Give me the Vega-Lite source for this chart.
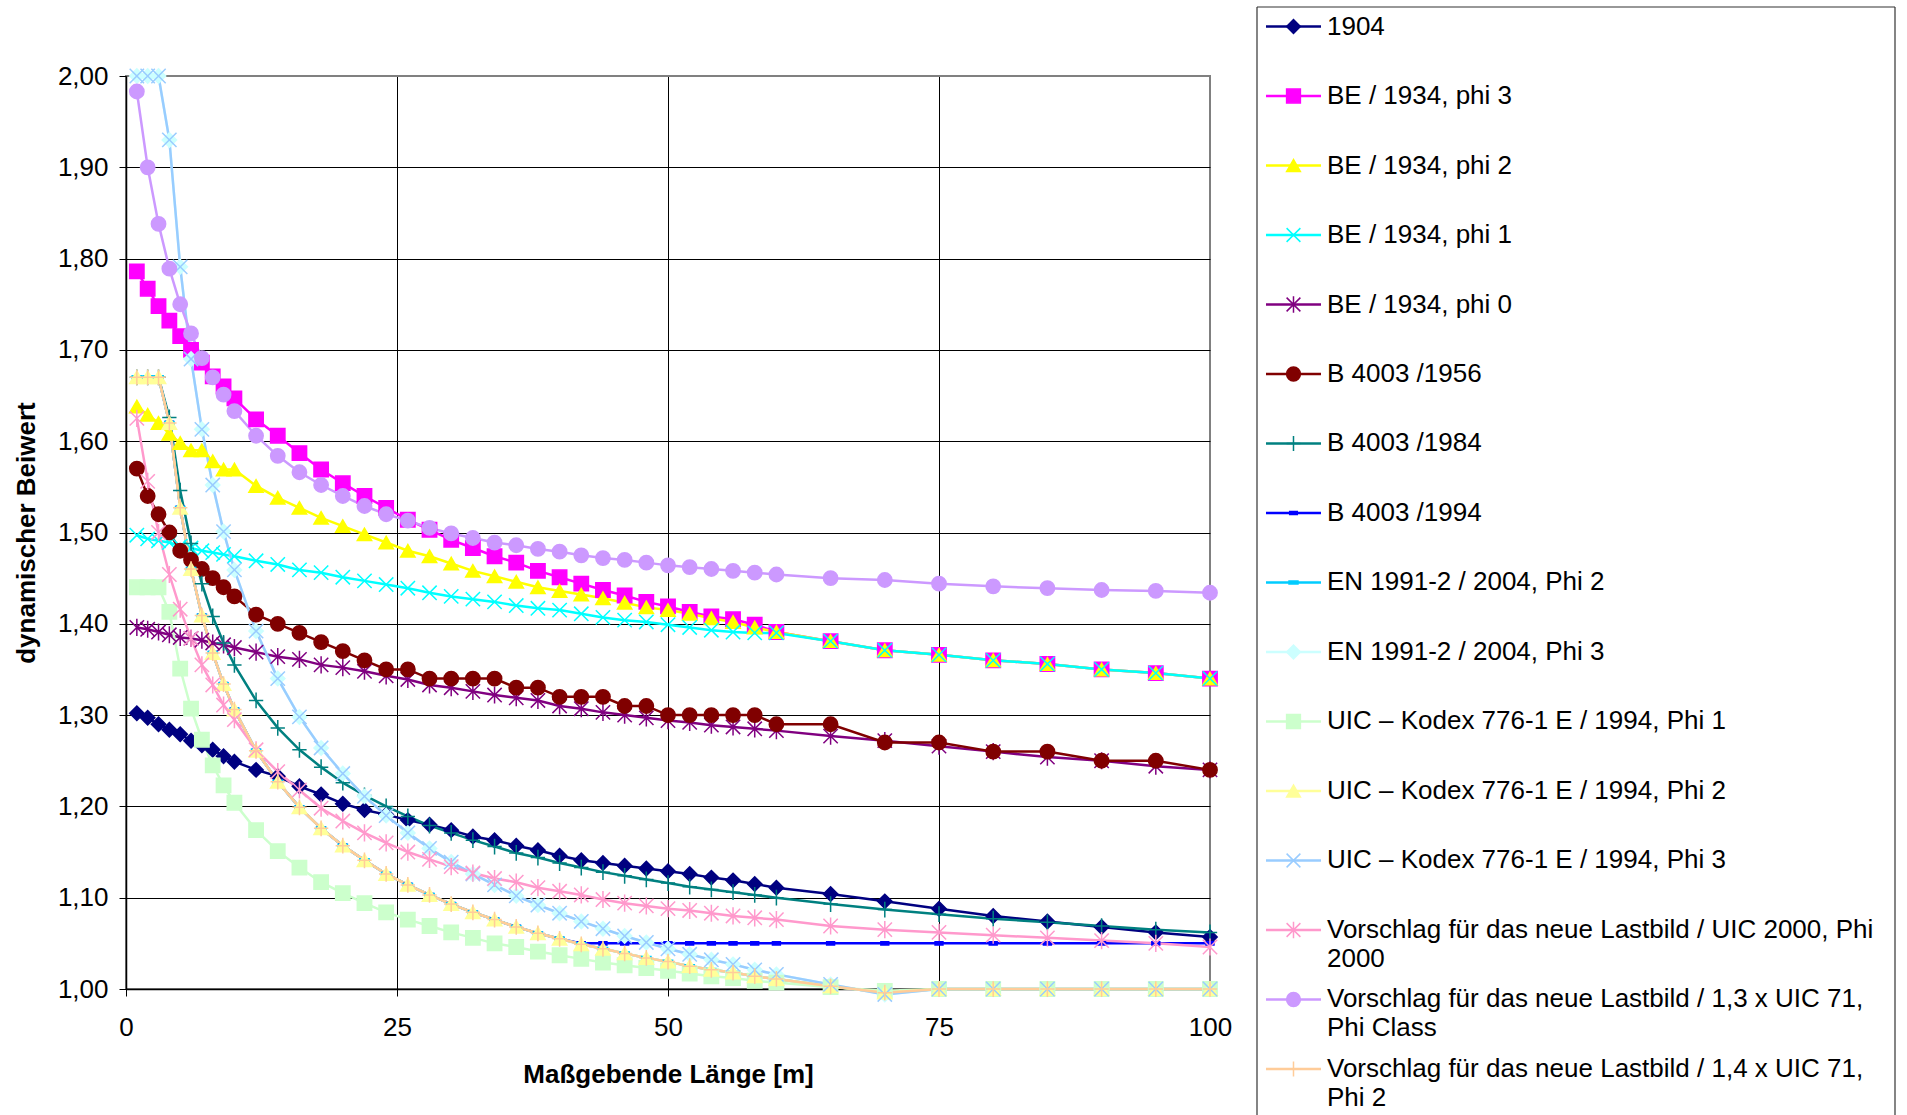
{
"$schema": "https://vega.github.io/schema/vega-lite/v6.json",
"padding": {"left": 12, "top": 6, "right": 0, "bottom": 0},
"bounds": "flush",
"spacing": 47,
"config": {
  "font": "Liberation Sans",
  "view": {"stroke": null},
  "axis": {"domainColor": "#000000", "domainWidth": 1.5, "tickColor": "#000000", "tickSize": 7, "tickWidth": 1, "labelFontSize": 26, "labelColor": "#000000", "labelFlush": false, "titleFontSize": 26, "titleFontWeight": "bold", "titleColor": "#000000", "gridWidth": 1, "gridOpacity": 1}
},
"datasets": {
"curves": [
{"s":"a","x":1,"y":1.302},{"s":"a","x":2,"y":1.297},{"s":"a","x":3,"y":1.290},{"s":"a","x":4,"y":1.284},{"s":"a","x":5,"y":1.279},{"s":"a","x":6,"y":1.272},{"s":"a","x":7,"y":1.267},{"s":"a","x":8,"y":1.262},{"s":"a","x":9,"y":1.255},{"s":"a","x":10,"y":1.249},{"s":"a","x":12,"y":1.240},{"s":"a","x":14,"y":1.233},{"s":"a","x":16,"y":1.222},{"s":"a","x":18,"y":1.213},{"s":"a","x":20,"y":1.203},{"s":"a","x":22,"y":1.196},{"s":"a","x":24,"y":1.191},{"s":"a","x":26,"y":1.185},{"s":"a","x":28,"y":1.180},{"s":"a","x":30,"y":1.174},{"s":"a","x":32,"y":1.167},{"s":"a","x":34,"y":1.163},{"s":"a","x":36,"y":1.157},{"s":"a","x":38,"y":1.152},{"s":"a","x":40,"y":1.146},{"s":"a","x":42,"y":1.141},{"s":"a","x":44,"y":1.138},{"s":"a","x":46,"y":1.135},{"s":"a","x":48,"y":1.132},{"s":"a","x":50,"y":1.129},{"s":"a","x":52,"y":1.126},{"s":"a","x":54,"y":1.122},{"s":"a","x":56,"y":1.119},{"s":"a","x":58,"y":1.115},{"s":"a","x":60,"y":1.111},{"s":"a","x":65,"y":1.104},{"s":"a","x":70,"y":1.096},{"s":"a","x":75,"y":1.088},{"s":"a","x":80,"y":1.080},{"s":"a","x":85,"y":1.074},{"s":"a","x":90,"y":1.068},{"s":"a","x":95,"y":1.062},{"s":"a","x":100,"y":1.057},
{"s":"b","x":1,"y":1.786},{"s":"b","x":2,"y":1.767},{"s":"b","x":3,"y":1.748},{"s":"b","x":4,"y":1.732},{"s":"b","x":5,"y":1.715},{"s":"b","x":6,"y":1.700},{"s":"b","x":7,"y":1.686},{"s":"b","x":8,"y":1.671},{"s":"b","x":9,"y":1.660},{"s":"b","x":10,"y":1.647},{"s":"b","x":12,"y":1.624},{"s":"b","x":14,"y":1.606},{"s":"b","x":16,"y":1.587},{"s":"b","x":18,"y":1.569},{"s":"b","x":20,"y":1.554},{"s":"b","x":22,"y":1.540},{"s":"b","x":24,"y":1.527},{"s":"b","x":26,"y":1.514},{"s":"b","x":28,"y":1.503},{"s":"b","x":30,"y":1.492},{"s":"b","x":32,"y":1.483},{"s":"b","x":34,"y":1.474},{"s":"b","x":36,"y":1.467},{"s":"b","x":38,"y":1.458},{"s":"b","x":40,"y":1.451},{"s":"b","x":42,"y":1.444},{"s":"b","x":44,"y":1.437},{"s":"b","x":46,"y":1.431},{"s":"b","x":48,"y":1.424},{"s":"b","x":50,"y":1.419},{"s":"b","x":52,"y":1.413},{"s":"b","x":54,"y":1.408},{"s":"b","x":56,"y":1.405},{"s":"b","x":58,"y":1.399},{"s":"b","x":60,"y":1.391},{"s":"b","x":65,"y":1.381},{"s":"b","x":70,"y":1.371},{"s":"b","x":75,"y":1.366},{"s":"b","x":80,"y":1.360},{"s":"b","x":85,"y":1.356},{"s":"b","x":90,"y":1.350},{"s":"b","x":95,"y":1.346},{"s":"b","x":100,"y":1.340},
{"s":"c","x":1,"y":1.638},{"s":"c","x":2,"y":1.629},{"s":"c","x":3,"y":1.620},{"s":"c","x":4,"y":1.608},{"s":"c","x":5,"y":1.598},{"s":"c","x":6,"y":1.590},{"s":"c","x":7,"y":1.590},{"s":"c","x":8,"y":1.578},{"s":"c","x":9,"y":1.569},{"s":"c","x":10,"y":1.569},{"s":"c","x":12,"y":1.551},{"s":"c","x":14,"y":1.538},{"s":"c","x":16,"y":1.527},{"s":"c","x":18,"y":1.516},{"s":"c","x":20,"y":1.507},{"s":"c","x":22,"y":1.498},{"s":"c","x":24,"y":1.489},{"s":"c","x":26,"y":1.480},{"s":"c","x":28,"y":1.474},{"s":"c","x":30,"y":1.466},{"s":"c","x":32,"y":1.458},{"s":"c","x":34,"y":1.452},{"s":"c","x":36,"y":1.446},{"s":"c","x":38,"y":1.440},{"s":"c","x":40,"y":1.436},{"s":"c","x":42,"y":1.432},{"s":"c","x":44,"y":1.428},{"s":"c","x":46,"y":1.423},{"s":"c","x":48,"y":1.418},{"s":"c","x":50,"y":1.415},{"s":"c","x":52,"y":1.411},{"s":"c","x":54,"y":1.406},{"s":"c","x":56,"y":1.402},{"s":"c","x":58,"y":1.396},{"s":"c","x":60,"y":1.391},{"s":"c","x":65,"y":1.381},{"s":"c","x":70,"y":1.371},{"s":"c","x":75,"y":1.366},{"s":"c","x":80,"y":1.360},{"s":"c","x":85,"y":1.356},{"s":"c","x":90,"y":1.350},{"s":"c","x":95,"y":1.346},{"s":"c","x":100,"y":1.340},
{"s":"d","x":1,"y":1.497},{"s":"d","x":2,"y":1.493},{"s":"d","x":3,"y":1.491},{"s":"d","x":4,"y":1.489},{"s":"d","x":5,"y":1.485},{"s":"d","x":6,"y":1.483},{"s":"d","x":7,"y":1.480},{"s":"d","x":8,"y":1.478},{"s":"d","x":9,"y":1.476},{"s":"d","x":10,"y":1.474},{"s":"d","x":12,"y":1.469},{"s":"d","x":14,"y":1.465},{"s":"d","x":16,"y":1.459},{"s":"d","x":18,"y":1.456},{"s":"d","x":20,"y":1.451},{"s":"d","x":22,"y":1.447},{"s":"d","x":24,"y":1.443},{"s":"d","x":26,"y":1.439},{"s":"d","x":28,"y":1.434},{"s":"d","x":30,"y":1.430},{"s":"d","x":32,"y":1.427},{"s":"d","x":34,"y":1.424},{"s":"d","x":36,"y":1.420},{"s":"d","x":38,"y":1.417},{"s":"d","x":40,"y":1.415},{"s":"d","x":42,"y":1.411},{"s":"d","x":44,"y":1.407},{"s":"d","x":46,"y":1.404},{"s":"d","x":48,"y":1.402},{"s":"d","x":50,"y":1.399},{"s":"d","x":52,"y":1.396},{"s":"d","x":54,"y":1.393},{"s":"d","x":56,"y":1.391},{"s":"d","x":58,"y":1.390},{"s":"d","x":60,"y":1.390},{"s":"d","x":65,"y":1.381},{"s":"d","x":70,"y":1.371},{"s":"d","x":75,"y":1.366},{"s":"d","x":80,"y":1.360},{"s":"d","x":85,"y":1.356},{"s":"d","x":90,"y":1.350},{"s":"d","x":95,"y":1.346},{"s":"d","x":100,"y":1.340},
{"s":"e","x":1,"y":1.396},{"s":"e","x":2,"y":1.394},{"s":"e","x":3,"y":1.391},{"s":"e","x":4,"y":1.388},{"s":"e","x":5,"y":1.385},{"s":"e","x":6,"y":1.384},{"s":"e","x":7,"y":1.382},{"s":"e","x":8,"y":1.379},{"s":"e","x":9,"y":1.377},{"s":"e","x":10,"y":1.374},{"s":"e","x":12,"y":1.369},{"s":"e","x":14,"y":1.364},{"s":"e","x":16,"y":1.361},{"s":"e","x":18,"y":1.355},{"s":"e","x":20,"y":1.352},{"s":"e","x":22,"y":1.348},{"s":"e","x":24,"y":1.343},{"s":"e","x":26,"y":1.339},{"s":"e","x":28,"y":1.333},{"s":"e","x":30,"y":1.330},{"s":"e","x":32,"y":1.326},{"s":"e","x":34,"y":1.322},{"s":"e","x":36,"y":1.319},{"s":"e","x":38,"y":1.316},{"s":"e","x":40,"y":1.310},{"s":"e","x":42,"y":1.307},{"s":"e","x":44,"y":1.303},{"s":"e","x":46,"y":1.300},{"s":"e","x":48,"y":1.297},{"s":"e","x":50,"y":1.294},{"s":"e","x":52,"y":1.292},{"s":"e","x":54,"y":1.289},{"s":"e","x":56,"y":1.287},{"s":"e","x":58,"y":1.285},{"s":"e","x":60,"y":1.283},{"s":"e","x":65,"y":1.277},{"s":"e","x":70,"y":1.272},{"s":"e","x":75,"y":1.266},{"s":"e","x":80,"y":1.260},{"s":"e","x":85,"y":1.254},{"s":"e","x":90,"y":1.250},{"s":"e","x":95,"y":1.244},{"s":"e","x":100,"y":1.240},
{"s":"f","x":1,"y":1.57},{"s":"f","x":2,"y":1.54},{"s":"f","x":3,"y":1.52},{"s":"f","x":4,"y":1.50},{"s":"f","x":5,"y":1.48},{"s":"f","x":6,"y":1.47},{"s":"f","x":7,"y":1.46},{"s":"f","x":8,"y":1.45},{"s":"f","x":9,"y":1.44},{"s":"f","x":10,"y":1.43},{"s":"f","x":12,"y":1.41},{"s":"f","x":14,"y":1.40},{"s":"f","x":16,"y":1.39},{"s":"f","x":18,"y":1.38},{"s":"f","x":20,"y":1.37},{"s":"f","x":22,"y":1.36},{"s":"f","x":24,"y":1.35},{"s":"f","x":26,"y":1.35},{"s":"f","x":28,"y":1.34},{"s":"f","x":30,"y":1.34},{"s":"f","x":32,"y":1.34},{"s":"f","x":34,"y":1.34},{"s":"f","x":36,"y":1.33},{"s":"f","x":38,"y":1.33},{"s":"f","x":40,"y":1.32},{"s":"f","x":42,"y":1.32},{"s":"f","x":44,"y":1.32},{"s":"f","x":46,"y":1.31},{"s":"f","x":48,"y":1.31},{"s":"f","x":50,"y":1.30},{"s":"f","x":52,"y":1.30},{"s":"f","x":54,"y":1.30},{"s":"f","x":56,"y":1.30},{"s":"f","x":58,"y":1.30},{"s":"f","x":60,"y":1.29},{"s":"f","x":65,"y":1.29},{"s":"f","x":70,"y":1.27},{"s":"f","x":75,"y":1.27},{"s":"f","x":80,"y":1.26},{"s":"f","x":85,"y":1.26},{"s":"f","x":90,"y":1.25},{"s":"f","x":95,"y":1.25},{"s":"f","x":100,"y":1.24},
{"s":"g","x":1,"y":1.67},{"s":"g","x":2,"y":1.67},{"s":"g","x":3,"y":1.67},{"s":"g","x":4,"y":1.626},{"s":"g","x":5,"y":1.546},{"s":"g","x":6,"y":1.488},{"s":"g","x":7,"y":1.444},{"s":"g","x":8,"y":1.408},{"s":"g","x":9,"y":1.379},{"s":"g","x":10,"y":1.355},{"s":"g","x":12,"y":1.316},{"s":"g","x":14,"y":1.286},{"s":"g","x":16,"y":1.262},{"s":"g","x":18,"y":1.243},{"s":"g","x":20,"y":1.226},{"s":"g","x":22,"y":1.212},{"s":"g","x":24,"y":1.200},{"s":"g","x":26,"y":1.189},{"s":"g","x":28,"y":1.179},{"s":"g","x":30,"y":1.171},{"s":"g","x":32,"y":1.163},{"s":"g","x":34,"y":1.156},{"s":"g","x":36,"y":1.149},{"s":"g","x":38,"y":1.144},{"s":"g","x":40,"y":1.138},{"s":"g","x":42,"y":1.133},{"s":"g","x":44,"y":1.128},{"s":"g","x":46,"y":1.124},{"s":"g","x":48,"y":1.120},{"s":"g","x":50,"y":1.116},{"s":"g","x":52,"y":1.112},{"s":"g","x":54,"y":1.109},{"s":"g","x":56,"y":1.106},{"s":"g","x":58,"y":1.103},{"s":"g","x":60,"y":1.100},{"s":"g","x":65,"y":1.093},{"s":"g","x":70,"y":1.087},{"s":"g","x":75,"y":1.082},{"s":"g","x":80,"y":1.077},{"s":"g","x":85,"y":1.073},{"s":"g","x":90,"y":1.069},{"s":"g","x":95,"y":1.065},{"s":"g","x":100,"y":1.062},
{"s":"h","x":1,"y":1.67},{"s":"h","x":2,"y":1.67},{"s":"h","x":3,"y":1.67},{"s":"h","x":4,"y":1.620},{"s":"h","x":5,"y":1.527},{"s":"h","x":6,"y":1.460},{"s":"h","x":7,"y":1.409},{"s":"h","x":8,"y":1.368},{"s":"h","x":9,"y":1.334},{"s":"h","x":10,"y":1.306},{"s":"h","x":12,"y":1.261},{"s":"h","x":14,"y":1.227},{"s":"h","x":16,"y":1.199},{"s":"h","x":18,"y":1.176},{"s":"h","x":20,"y":1.157},{"s":"h","x":22,"y":1.141},{"s":"h","x":24,"y":1.126},{"s":"h","x":26,"y":1.114},{"s":"h","x":28,"y":1.103},{"s":"h","x":30,"y":1.093},{"s":"h","x":32,"y":1.084},{"s":"h","x":34,"y":1.076},{"s":"h","x":36,"y":1.068},{"s":"h","x":38,"y":1.061},{"s":"h","x":40,"y":1.055},{"s":"h","x":42,"y":1.05},{"s":"h","x":44,"y":1.05},{"s":"h","x":46,"y":1.05},{"s":"h","x":48,"y":1.05},{"s":"h","x":50,"y":1.05},{"s":"h","x":52,"y":1.05},{"s":"h","x":54,"y":1.05},{"s":"h","x":56,"y":1.05},{"s":"h","x":58,"y":1.05},{"s":"h","x":60,"y":1.05},{"s":"h","x":65,"y":1.05},{"s":"h","x":70,"y":1.05},{"s":"h","x":75,"y":1.05},{"s":"h","x":80,"y":1.05},{"s":"h","x":85,"y":1.05},{"s":"h","x":90,"y":1.05},{"s":"h","x":95,"y":1.05},{"s":"h","x":100,"y":1.05},
{"s":"i","x":1,"y":1.67},{"s":"i","x":2,"y":1.67},{"s":"i","x":3,"y":1.67},{"s":"i","x":4,"y":1.620},{"s":"i","x":5,"y":1.527},{"s":"i","x":6,"y":1.460},{"s":"i","x":7,"y":1.409},{"s":"i","x":8,"y":1.368},{"s":"i","x":9,"y":1.334},{"s":"i","x":10,"y":1.306},{"s":"i","x":12,"y":1.261},{"s":"i","x":14,"y":1.227},{"s":"i","x":16,"y":1.199},{"s":"i","x":18,"y":1.176},{"s":"i","x":20,"y":1.157},{"s":"i","x":22,"y":1.141},{"s":"i","x":24,"y":1.126},{"s":"i","x":26,"y":1.114},{"s":"i","x":28,"y":1.103},{"s":"i","x":30,"y":1.093},{"s":"i","x":32,"y":1.084},{"s":"i","x":34,"y":1.076},{"s":"i","x":36,"y":1.068},{"s":"i","x":38,"y":1.061},{"s":"i","x":40,"y":1.055},{"s":"i","x":42,"y":1.049},{"s":"i","x":44,"y":1.044},{"s":"i","x":46,"y":1.039},{"s":"i","x":48,"y":1.034},{"s":"i","x":50,"y":1.030},{"s":"i","x":52,"y":1.025},{"s":"i","x":54,"y":1.021},{"s":"i","x":56,"y":1.018},{"s":"i","x":58,"y":1.014},{"s":"i","x":60,"y":1.011},{"s":"i","x":65,"y":1.003},{"s":"i","x":70,"y":0.996},{"s":"i","x":75,"y":1.0},{"s":"i","x":80,"y":1.0},{"s":"i","x":85,"y":1.0},{"s":"i","x":90,"y":1.0},{"s":"i","x":95,"y":1.0},{"s":"i","x":100,"y":1.0},
{"s":"j","x":1,"y":2.0},{"s":"j","x":2,"y":2.0},{"s":"j","x":3,"y":2.0},{"s":"j","x":4,"y":1.930},{"s":"j","x":5,"y":1.791},{"s":"j","x":6,"y":1.690},{"s":"j","x":7,"y":1.613},{"s":"j","x":8,"y":1.552},{"s":"j","x":9,"y":1.501},{"s":"j","x":10,"y":1.459},{"s":"j","x":12,"y":1.392},{"s":"j","x":14,"y":1.340},{"s":"j","x":16,"y":1.298},{"s":"j","x":18,"y":1.264},{"s":"j","x":20,"y":1.236},{"s":"j","x":22,"y":1.211},{"s":"j","x":24,"y":1.190},{"s":"j","x":26,"y":1.171},{"s":"j","x":28,"y":1.154},{"s":"j","x":30,"y":1.139},{"s":"j","x":32,"y":1.126},{"s":"j","x":34,"y":1.114},{"s":"j","x":36,"y":1.102},{"s":"j","x":38,"y":1.092},{"s":"j","x":40,"y":1.083},{"s":"j","x":42,"y":1.074},{"s":"j","x":44,"y":1.066},{"s":"j","x":46,"y":1.058},{"s":"j","x":48,"y":1.051},{"s":"j","x":50,"y":1.044},{"s":"j","x":52,"y":1.038},{"s":"j","x":54,"y":1.032},{"s":"j","x":56,"y":1.027},{"s":"j","x":58,"y":1.021},{"s":"j","x":60,"y":1.016},{"s":"j","x":65,"y":1.005},{"s":"j","x":70,"y":0.994},{"s":"j","x":75,"y":1.0},{"s":"j","x":80,"y":1.0},{"s":"j","x":85,"y":1.0},{"s":"j","x":90,"y":1.0},{"s":"j","x":95,"y":1.0},{"s":"j","x":100,"y":1.0},
{"s":"k","x":1,"y":1.44},{"s":"k","x":2,"y":1.44},{"s":"k","x":3,"y":1.44},{"s":"k","x":4,"y":1.413},{"s":"k","x":5,"y":1.351},{"s":"k","x":6,"y":1.307},{"s":"k","x":7,"y":1.273},{"s":"k","x":8,"y":1.245},{"s":"k","x":9,"y":1.223},{"s":"k","x":10,"y":1.204},{"s":"k","x":12,"y":1.174},{"s":"k","x":14,"y":1.151},{"s":"k","x":16,"y":1.133},{"s":"k","x":18,"y":1.117},{"s":"k","x":20,"y":1.105},{"s":"k","x":22,"y":1.094},{"s":"k","x":24,"y":1.084},{"s":"k","x":26,"y":1.076},{"s":"k","x":28,"y":1.069},{"s":"k","x":30,"y":1.062},{"s":"k","x":32,"y":1.056},{"s":"k","x":34,"y":1.050},{"s":"k","x":36,"y":1.046},{"s":"k","x":38,"y":1.041},{"s":"k","x":40,"y":1.037},{"s":"k","x":42,"y":1.033},{"s":"k","x":44,"y":1.029},{"s":"k","x":46,"y":1.026},{"s":"k","x":48,"y":1.023},{"s":"k","x":50,"y":1.020},{"s":"k","x":52,"y":1.017},{"s":"k","x":54,"y":1.014},{"s":"k","x":56,"y":1.012},{"s":"k","x":58,"y":1.009},{"s":"k","x":60,"y":1.007},{"s":"k","x":65,"y":1.002},{"s":"k","x":70,"y":0.998},{"s":"k","x":75,"y":1.0},{"s":"k","x":80,"y":1.0},{"s":"k","x":85,"y":1.0},{"s":"k","x":90,"y":1.0},{"s":"k","x":95,"y":1.0},{"s":"k","x":100,"y":1.0},
{"s":"l","x":1,"y":1.67},{"s":"l","x":2,"y":1.67},{"s":"l","x":3,"y":1.67},{"s":"l","x":4,"y":1.620},{"s":"l","x":5,"y":1.527},{"s":"l","x":6,"y":1.460},{"s":"l","x":7,"y":1.409},{"s":"l","x":8,"y":1.368},{"s":"l","x":9,"y":1.334},{"s":"l","x":10,"y":1.306},{"s":"l","x":12,"y":1.261},{"s":"l","x":14,"y":1.227},{"s":"l","x":16,"y":1.199},{"s":"l","x":18,"y":1.176},{"s":"l","x":20,"y":1.157},{"s":"l","x":22,"y":1.141},{"s":"l","x":24,"y":1.126},{"s":"l","x":26,"y":1.114},{"s":"l","x":28,"y":1.103},{"s":"l","x":30,"y":1.093},{"s":"l","x":32,"y":1.084},{"s":"l","x":34,"y":1.076},{"s":"l","x":36,"y":1.068},{"s":"l","x":38,"y":1.061},{"s":"l","x":40,"y":1.055},{"s":"l","x":42,"y":1.049},{"s":"l","x":44,"y":1.044},{"s":"l","x":46,"y":1.039},{"s":"l","x":48,"y":1.034},{"s":"l","x":50,"y":1.030},{"s":"l","x":52,"y":1.025},{"s":"l","x":54,"y":1.021},{"s":"l","x":56,"y":1.018},{"s":"l","x":58,"y":1.014},{"s":"l","x":60,"y":1.011},{"s":"l","x":65,"y":1.003},{"s":"l","x":70,"y":0.996},{"s":"l","x":75,"y":1.0},{"s":"l","x":80,"y":1.0},{"s":"l","x":85,"y":1.0},{"s":"l","x":90,"y":1.0},{"s":"l","x":95,"y":1.0},{"s":"l","x":100,"y":1.0},
{"s":"m","x":1,"y":2.0},{"s":"m","x":2,"y":2.0},{"s":"m","x":3,"y":2.0},{"s":"m","x":4,"y":1.930},{"s":"m","x":5,"y":1.791},{"s":"m","x":6,"y":1.690},{"s":"m","x":7,"y":1.613},{"s":"m","x":8,"y":1.552},{"s":"m","x":9,"y":1.501},{"s":"m","x":10,"y":1.459},{"s":"m","x":12,"y":1.392},{"s":"m","x":14,"y":1.340},{"s":"m","x":16,"y":1.298},{"s":"m","x":18,"y":1.264},{"s":"m","x":20,"y":1.236},{"s":"m","x":22,"y":1.211},{"s":"m","x":24,"y":1.190},{"s":"m","x":26,"y":1.171},{"s":"m","x":28,"y":1.154},{"s":"m","x":30,"y":1.139},{"s":"m","x":32,"y":1.126},{"s":"m","x":34,"y":1.114},{"s":"m","x":36,"y":1.102},{"s":"m","x":38,"y":1.092},{"s":"m","x":40,"y":1.083},{"s":"m","x":42,"y":1.074},{"s":"m","x":44,"y":1.066},{"s":"m","x":46,"y":1.058},{"s":"m","x":48,"y":1.051},{"s":"m","x":50,"y":1.044},{"s":"m","x":52,"y":1.038},{"s":"m","x":54,"y":1.032},{"s":"m","x":56,"y":1.027},{"s":"m","x":58,"y":1.021},{"s":"m","x":60,"y":1.016},{"s":"m","x":65,"y":1.005},{"s":"m","x":70,"y":0.994},{"s":"m","x":75,"y":1.0},{"s":"m","x":80,"y":1.0},{"s":"m","x":85,"y":1.0},{"s":"m","x":90,"y":1.0},{"s":"m","x":95,"y":1.0},{"s":"m","x":100,"y":1.0},
{"s":"n","x":1,"y":1.625},{"s":"n","x":2,"y":1.556},{"s":"n","x":3,"y":1.500},{"s":"n","x":4,"y":1.454},{"s":"n","x":5,"y":1.416},{"s":"n","x":6,"y":1.384},{"s":"n","x":7,"y":1.355},{"s":"n","x":8,"y":1.333},{"s":"n","x":9,"y":1.311},{"s":"n","x":10,"y":1.295},{"s":"n","x":12,"y":1.262},{"s":"n","x":14,"y":1.238},{"s":"n","x":16,"y":1.218},{"s":"n","x":18,"y":1.198},{"s":"n","x":20,"y":1.184},{"s":"n","x":22,"y":1.171},{"s":"n","x":24,"y":1.160},{"s":"n","x":26,"y":1.150},{"s":"n","x":28,"y":1.142},{"s":"n","x":30,"y":1.134},{"s":"n","x":32,"y":1.127},{"s":"n","x":34,"y":1.121},{"s":"n","x":36,"y":1.117},{"s":"n","x":38,"y":1.111},{"s":"n","x":40,"y":1.107},{"s":"n","x":42,"y":1.103},{"s":"n","x":44,"y":1.098},{"s":"n","x":46,"y":1.094},{"s":"n","x":48,"y":1.091},{"s":"n","x":50,"y":1.088},{"s":"n","x":52,"y":1.086},{"s":"n","x":54,"y":1.083},{"s":"n","x":56,"y":1.080},{"s":"n","x":58,"y":1.078},{"s":"n","x":60,"y":1.076},{"s":"n","x":65,"y":1.069},{"s":"n","x":70,"y":1.065},{"s":"n","x":75,"y":1.062},{"s":"n","x":80,"y":1.059},{"s":"n","x":85,"y":1.056},{"s":"n","x":90,"y":1.053},{"s":"n","x":95,"y":1.050},{"s":"n","x":100,"y":1.046},
{"s":"o","x":1,"y":1.983},{"s":"o","x":2,"y":1.900},{"s":"o","x":3,"y":1.838},{"s":"o","x":4,"y":1.789},{"s":"o","x":5,"y":1.750},{"s":"o","x":6,"y":1.718},{"s":"o","x":7,"y":1.691},{"s":"o","x":8,"y":1.670},{"s":"o","x":9,"y":1.651},{"s":"o","x":10,"y":1.633},{"s":"o","x":12,"y":1.606},{"s":"o","x":14,"y":1.584},{"s":"o","x":16,"y":1.566},{"s":"o","x":18,"y":1.552},{"s":"o","x":20,"y":1.540},{"s":"o","x":22,"y":1.529},{"s":"o","x":24,"y":1.520},{"s":"o","x":26,"y":1.513},{"s":"o","x":28,"y":1.505},{"s":"o","x":30,"y":1.499},{"s":"o","x":32,"y":1.494},{"s":"o","x":34,"y":1.489},{"s":"o","x":36,"y":1.486},{"s":"o","x":38,"y":1.482},{"s":"o","x":40,"y":1.479},{"s":"o","x":42,"y":1.475},{"s":"o","x":44,"y":1.472},{"s":"o","x":46,"y":1.470},{"s":"o","x":48,"y":1.467},{"s":"o","x":50,"y":1.464},{"s":"o","x":52,"y":1.462},{"s":"o","x":54,"y":1.460},{"s":"o","x":56,"y":1.458},{"s":"o","x":58,"y":1.456},{"s":"o","x":60,"y":1.454},{"s":"o","x":65,"y":1.450},{"s":"o","x":70,"y":1.448},{"s":"o","x":75,"y":1.444},{"s":"o","x":80,"y":1.441},{"s":"o","x":85,"y":1.439},{"s":"o","x":90,"y":1.437},{"s":"o","x":95,"y":1.436},{"s":"o","x":100,"y":1.434},
{"s":"p","x":1,"y":1.67},{"s":"p","x":2,"y":1.67},{"s":"p","x":3,"y":1.67},{"s":"p","x":4,"y":1.620},{"s":"p","x":5,"y":1.527},{"s":"p","x":6,"y":1.460},{"s":"p","x":7,"y":1.409},{"s":"p","x":8,"y":1.368},{"s":"p","x":9,"y":1.334},{"s":"p","x":10,"y":1.306},{"s":"p","x":12,"y":1.261},{"s":"p","x":14,"y":1.227},{"s":"p","x":16,"y":1.199},{"s":"p","x":18,"y":1.176},{"s":"p","x":20,"y":1.157},{"s":"p","x":22,"y":1.141},{"s":"p","x":24,"y":1.126},{"s":"p","x":26,"y":1.114},{"s":"p","x":28,"y":1.103},{"s":"p","x":30,"y":1.093},{"s":"p","x":32,"y":1.084},{"s":"p","x":34,"y":1.076},{"s":"p","x":36,"y":1.068},{"s":"p","x":38,"y":1.061},{"s":"p","x":40,"y":1.055},{"s":"p","x":42,"y":1.049},{"s":"p","x":44,"y":1.044},{"s":"p","x":46,"y":1.039},{"s":"p","x":48,"y":1.034},{"s":"p","x":50,"y":1.030},{"s":"p","x":52,"y":1.025},{"s":"p","x":54,"y":1.021},{"s":"p","x":56,"y":1.018},{"s":"p","x":58,"y":1.014},{"s":"p","x":60,"y":1.011},{"s":"p","x":65,"y":1.003},{"s":"p","x":70,"y":0.996},{"s":"p","x":75,"y":1.0},{"s":"p","x":80,"y":1.0},{"s":"p","x":85,"y":1.0},{"s":"p","x":90,"y":1.0},{"s":"p","x":95,"y":1.0},{"s":"p","x":100,"y":1.0}
],
"leg": [
{"s":"a","r":0,"t":"1904"},
{"s":"b","r":1,"t":"BE / 1934, phi 3"},
{"s":"c","r":2,"t":"BE / 1934, phi 2"},
{"s":"d","r":3,"t":"BE / 1934, phi 1"},
{"s":"e","r":4,"t":"BE / 1934, phi 0"},
{"s":"f","r":5,"t":"B 4003 /1956"},
{"s":"g","r":6,"t":"B 4003 /1984"},
{"s":"h","r":7,"t":"B 4003 /1994"},
{"s":"i","r":8,"t":"EN 1991-2 / 2004, Phi 2"},
{"s":"j","r":9,"t":"EN 1991-2 / 2004, Phi 3"},
{"s":"k","r":10,"t":"UIC – Kodex 776-1 E / 1994, Phi 1"},
{"s":"l","r":11,"t":"UIC – Kodex 776-1 E / 1994, Phi 2"},
{"s":"m","r":12,"t":"UIC – Kodex 776-1 E / 1994, Phi 3"},
{"s":"n","r":13,"t":"Vorschlag für das neue Lastbild / UIC 2000, Phi\n2000"},
{"s":"o","r":14,"t":"Vorschlag für das neue Lastbild / 1,3 x UIC 71,\nPhi Class"},
{"s":"p","r":15,"t":"Vorschlag für das neue Lastbild / 1,4 x UIC 71,\nPhi 2"}
]
},
"hconcat": [
{
  "width": 1084,
  "height": 913,
  "view": {"stroke": "#808080", "strokeWidth": 2},
  "data": {"name": "curves"},
  "encoding": {
    "x": {"field": "x", "type": "quantitative", "scale": {"domain": [0, 100], "nice": false},
      "axis": {"values": [0, 25, 50, 75, 100], "format": "d", "title": "Maßgebende Länge [m]", "labelPadding": 18, "titlePadding": 21, "grid": true,
        "gridColor": {"condition": {"test": "datum.value >= 99.9", "value": "#808080"}, "value": "#000000"}}},
    "y": {"field": "y", "type": "quantitative", "scale": {"domain": [1, 2], "nice": false, "zero": false},
      "axis": {"values": [1, 1.1, 1.2, 1.3, 1.4, 1.5, 1.6, 1.7, 1.8, 1.9, 2], "labelExpr": "replace(format(datum.value, '.2f'), '.', ',')", "title": "dynamischer Beiwert", "labelPadding": 11, "titlePadding": 18, "grid": true,
        "gridColor": {"condition": {"test": "datum.value >= 1.999", "value": "#808080"}, "value": "#000000"}}}
  },
  "layer": [
    {"mark": {"type": "line", "strokeWidth": 2.5},
     "encoding": {"stroke": {"field": "s", "type": "nominal", "legend": null,
       "scale": {"domain": ["a","b","c","d","e","f","g","h","i","j","k","l","m","n","o","p"],
                 "range": ["#000080","#FF00FF","#FFFF00","#00FFFF","#800080","#800000","#008080","#0000FF","#00CCFF","#CCFFFF","#CCFFCC","#FFFF99","#99CCFF","#FF99CC","#CC99FF","#FFCC99"]}}}},
    {"mark": {"type": "point", "size": 205, "strokeWidth": 1.5, "opacity": 1},
     "encoding": {
       "stroke": {"field": "s", "type": "nominal", "legend": null,
         "scale": {"domain": ["a","b","c","d","e","f","g","h","i","j","k","l","m","n","o","p"],
                   "range": ["#000080","#FF00FF","#FFFF00","#00FFFF","#800080","#800000","#008080","#0000FF","#00CCFF","#CCFFFF","#CCFFCC","#FFFF99","#99CCFF","#FF99CC","#CC99FF","#FFCC99"]}},
       "fill": {"field": "s", "type": "nominal", "legend": null,
         "scale": {"domain": ["a","b","c","d","e","f","g","h","i","j","k","l","m","n","o","p"],
                   "range": ["#000080","#FF00FF","#FFFF00","transparent","transparent","#800000","transparent","#0000FF","#00CCFF","#CCFFFF","#CCFFCC","#FFFF99","transparent","transparent","#CC99FF","transparent"]}},
       "shape": {"field": "s", "type": "nominal", "legend": null,
         "scale": {"domain": ["a","b","c","d","e","f","g","h","i","j","k","l","m","n","o","p"],
                   "range": ["diamond","square","triangle-up","M-1,-1L1,1M-1,1L1,-1","M-1,-1L1,1M-1,1L1,-1M0,-1.2L0,1.2","circle","M-1,0L1,0M0,-1.1L0,1.1","M-0.55,-0.22H0.55V0.22H-0.55Z","M-0.65,-0.2H0.65V0.2H-0.65Z","diamond","square","triangle-up","M-1,-1L1,1M-1,1L1,-1","M-1,-1L1,1M-1,1L1,-1M0,-1.2L0,1.2","circle","M-1,0L1,0M0,-1.1L0,1.1"]}}
     }}
  ]
},
{
  "width": 638,
  "height": 913,
  "view": {"stroke": null},
  "layer": [
    {"data": {"values": [{}]}, "mark": {"type": "rule", "stroke": "#333333", "strokeWidth": 1.2},
     "encoding": {"x": {"datum": 0, "type": "quantitative", "scale": {"domain": [0, 1], "nice": false}, "axis": null},
                  "y": {"datum": -0.2806, "type": "quantitative", "scale": {"domain": [0.7122, 13.849], "nice": false, "zero": false, "reverse": true}, "axis": null},
                  "y2": {"datum": 15.67}}},
    {"data": {"values": [{}]}, "mark": {"type": "rule", "stroke": "#333333", "strokeWidth": 1.2},
     "encoding": {"x": {"datum": 1, "type": "quantitative", "scale": {"domain": [0, 1], "nice": false}, "axis": null},
                  "y": {"datum": -0.2806, "type": "quantitative", "scale": {"domain": [0.7122, 13.849], "nice": false, "zero": false, "reverse": true}, "axis": null},
                  "y2": {"datum": 15.67}}},
    {"data": {"values": [{}]}, "mark": {"type": "rule", "stroke": "#333333", "strokeWidth": 1.2},
     "encoding": {"x": {"datum": 0, "type": "quantitative", "scale": {"domain": [0, 1], "nice": false}, "axis": null},
                  "x2": {"datum": 1},
                  "y": {"datum": -0.2806, "type": "quantitative", "scale": {"domain": [0.7122, 13.849], "nice": false, "zero": false, "reverse": true}, "axis": null}}},
    {"data": {"name": "leg"}, "mark": {"type": "rule", "strokeWidth": 2.5},
     "encoding": {"x": {"datum": 0.0141, "type": "quantitative", "scale": {"domain": [0, 1], "nice": false}, "axis": null},
                  "x2": {"datum": 0.1003},
                  "y": {"field": "r", "type": "quantitative", "scale": {"domain": [0.7122, 13.849], "nice": false, "zero": false, "reverse": true}, "axis": null},
                  "stroke": {"field": "s", "type": "nominal", "legend": null,
                    "scale": {"domain": ["a","b","c","d","e","f","g","h","i","j","k","l","m","n","o","p"],
                              "range": ["#000080","#FF00FF","#FFFF00","#00FFFF","#800080","#800000","#008080","#0000FF","#00CCFF","#CCFFFF","#CCFFCC","#FFFF99","#99CCFF","#FF99CC","#CC99FF","#FFCC99"]}}}},
    {"data": {"name": "leg"}, "mark": {"type": "point", "size": 190, "strokeWidth": 1.5, "opacity": 1},
     "encoding": {"x": {"datum": 0.0572, "type": "quantitative", "scale": {"domain": [0, 1], "nice": false}, "axis": null},
                  "y": {"field": "r", "type": "quantitative", "scale": {"domain": [0.7122, 13.849], "nice": false, "zero": false, "reverse": true}, "axis": null},
                  "stroke": {"field": "s", "type": "nominal", "legend": null,
                    "scale": {"domain": ["a","b","c","d","e","f","g","h","i","j","k","l","m","n","o","p"],
                              "range": ["#000080","#FF00FF","#FFFF00","#00FFFF","#800080","#800000","#008080","#0000FF","#00CCFF","#CCFFFF","#CCFFCC","#FFFF99","#99CCFF","#FF99CC","#CC99FF","#FFCC99"]}},
                  "fill": {"field": "s", "type": "nominal", "legend": null,
                    "scale": {"domain": ["a","b","c","d","e","f","g","h","i","j","k","l","m","n","o","p"],
                              "range": ["#000080","#FF00FF","#FFFF00","transparent","transparent","#800000","transparent","#0000FF","#00CCFF","#CCFFFF","#CCFFCC","#FFFF99","transparent","transparent","#CC99FF","transparent"]}},
                  "shape": {"field": "s", "type": "nominal", "legend": null,
                    "scale": {"domain": ["a","b","c","d","e","f","g","h","i","j","k","l","m","n","o","p"],
                              "range": ["diamond","square","triangle-up","M-1,-1L1,1M-1,1L1,-1","M-1,-1L1,1M-1,1L1,-1M0,-1.2L0,1.2","circle","M-1,0L1,0M0,-1.1L0,1.1","M-0.55,-0.22H0.55V0.22H-0.55Z","M-0.65,-0.2H0.65V0.2H-0.65Z","diamond","square","triangle-up","M-1,-1L1,1M-1,1L1,-1","M-1,-1L1,1M-1,1L1,-1M0,-1.2L0,1.2","circle","M-1,0L1,0M0,-1.1L0,1.1"]}}}},
    {"data": {"name": "leg"}, "mark": {"type": "text", "align": "left", "baseline": "middle", "fontSize": 26, "lineBreak": "\n", "lineHeight": 29, "color": "#000000"},
     "encoding": {"x": {"datum": 0.1097, "type": "quantitative", "scale": {"domain": [0, 1], "nice": false}, "axis": null},
                  "y": {"field": "r", "type": "quantitative", "scale": {"domain": [0.7122, 13.849], "nice": false, "zero": false, "reverse": true}, "axis": null},
                  "text": {"field": "t", "type": "nominal"}}}
  ]
}
]
}
